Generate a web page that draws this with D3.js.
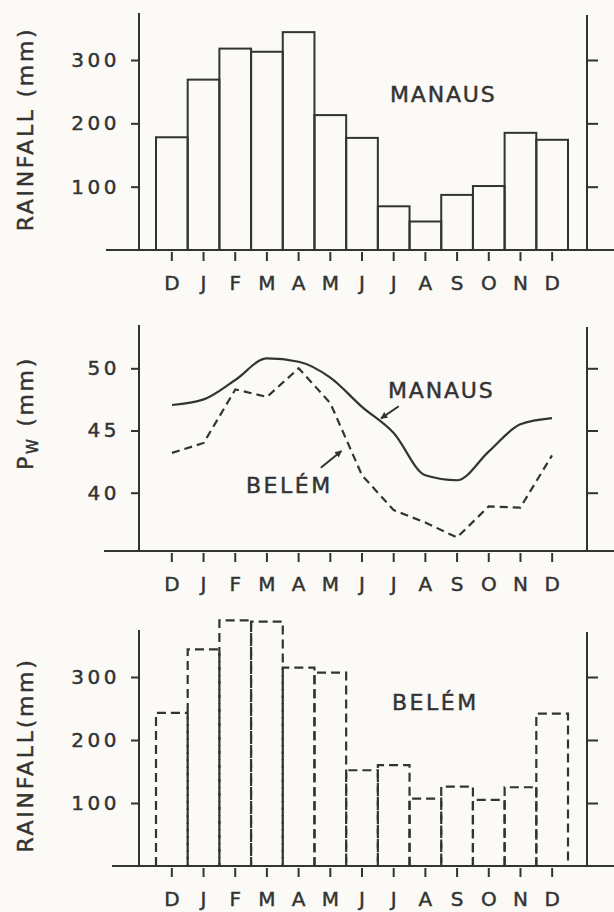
<!doctype html>
<html lang="en">
<head>
  <meta charset="utf-8">
  <title>Rainfall and Pw, Manaus and Belem</title>
  <script src="https://cdnjs.cloudflare.com/ajax/libs/d3/7.8.5/d3.min.js"></script>
  <style>
    body { margin: 0; overflow: hidden; background: #fbfaf6; }
    text { font-family: "DejaVu Sans", sans-serif; fill: #333; stroke: #333; stroke-width: 0.45px; }
  </style>
</head>
<body>
<script>
  // data
  var months = ["D", "J", "F", "M", "A", "M", "J", "J", "A", "S", "O", "N", "D"];
  var manausRain = [178, 269, 318, 313, 344, 213, 177, 69, 45, 87, 101, 185, 174];
  var belemRain = [243, 344, 390, 388, 315, 307, 152, 160, 107, 126, 105, 125, 242];
  var manausPw = [47.05, 47.5, 49.06, 50.8, 50.53, 49.25, 46.9, 44.8, 41.4, 41.0, 43.3, 45.5, 46.0];
  var belemPw = [43.2, 44.0, 48.3, 47.7, 50.0, 47.2, 41.4, 38.6, 37.6, 36.4, 38.9, 38.8, 43.0];
  var rainTicks = [100, 200, 300];
  var pwTicks = [40, 45, 50];

  var ink = "#333";
  var W = 614, H = 912;

  var svg = d3.select("body").append("svg")
    .attr("width", W)
    .attr("height", H);

  svg.append("defs").append("marker")
    .attr("id", "arrow")
    .attr("viewBox", "0 0 10 10")
    .attr("refX", 9).attr("refY", 5)
    .attr("markerWidth", 7).attr("markerHeight", 7)
    .attr("markerUnits", "userSpaceOnUse")
    .attr("orient", "auto")
    .append("path")
    .attr("d", "M0,0 L10,5 L0,10 z")
    .attr("fill", ink);

  var xLeft = 139, xRight = 587;
  var band = d3.scaleBand().domain(d3.range(months.length)).range([156, 568]).padding(0);
  var xIdx = d3.scaleLinear().domain([0, 12]).range([172, 552]);

  function frame(top, base, y, ticks, baseStart) {
    var g = svg.append("g");
    // left axis ticks + labels
    var la = g.append("g")
      .attr("transform", "translate(" + xLeft + ",0)")
      .call(d3.axisLeft(y).tickValues(ticks).tickSize(8).tickPadding(11));
    la.select(".domain").remove();
    la.selectAll("line").attr("stroke", ink).attr("stroke-width", 2);
    la.selectAll("text")
      .attr("font-size", 20).attr("letter-spacing", 3.5)
      .attr("fill", ink).attr("font-family", "DejaVu Sans");
    // right axis ticks
    var ra = g.append("g")
      .attr("transform", "translate(" + xRight + ",0)")
      .call(d3.axisRight(y).tickValues(ticks).tickSize(11).tickFormat(""));
    ra.select(".domain").remove();
    ra.selectAll("line").attr("stroke", ink).attr("stroke-width", 2);
    // bottom ticks + month labels
    var ba = g.append("g")
      .attr("transform", "translate(0," + (base + 2) + ")")
      .call(d3.axisBottom(band).tickSize(9).tickPadding(15).tickFormat(function (i) { return months[i]; }));
    ba.select(".domain").remove();
    ba.selectAll("line").attr("stroke", ink).attr("stroke-width", 2);
    ba.selectAll("text")
      .attr("font-size", 20)
      .attr("fill", ink).attr("font-family", "DejaVu Sans");
    // frame lines
    g.append("line").attr("x1", xLeft).attr("x2", xLeft).attr("y1", top).attr("y2", base)
      .attr("stroke", ink).attr("stroke-width", 2);
    g.append("line").attr("x1", xRight).attr("x2", xRight).attr("y1", top + 2).attr("y2", base)
      .attr("stroke", ink).attr("stroke-width", 2);
    g.append("line").attr("x1", baseStart).attr("x2", W).attr("y1", base).attr("y2", base)
      .attr("stroke", ink).attr("stroke-width", 2);
    return g;
  }

  function yLabel(txt, cy) {
    return svg.append("text")
      .attr("transform", "translate(33," + cy + ") rotate(-90)")
      .attr("text-anchor", "middle")
      .attr("font-size", 22)
      .attr("letter-spacing", 2.7)
      .text(txt);
  }

  // ---- panel 1: Manaus rainfall
  var y1 = d3.scaleLinear().domain([0, 300]).range([250, 60]);
  frame(13, 250, y1, rainTicks, 106);
  svg.append("g").selectAll("rect")
    .data(manausRain)
    .join("rect")
    .attr("x", function (d, i) { return band(i); })
    .attr("y", function (d) { return y1(d); })
    .attr("width", band.bandwidth())
    .attr("height", function (d) { return y1(0) - y1(d); })
    .attr("fill", "none")
    .attr("stroke", ink)
    .attr("stroke-width", 2);
  yLabel("RAINFALL (mm)", 129);
  svg.append("text").attr("x", 390).attr("y", 102)
    .attr("font-size", 22).attr("letter-spacing", 1.8).text("MANAUS");

  // ---- panel 2: precipitable water
  var y2 = d3.scaleLinear().domain([40, 50]).range([492.7, 368.3]);
  frame(325, 551, y2, pwTicks, 104);
  var line2 = d3.line()
    .x(function (d, i) { return xIdx(i); })
    .y(function (d) { return y2(d); });
  svg.append("path").datum(manausPw)
    .attr("d", line2.curve(d3.curveMonotoneX))
    .attr("fill", "none").attr("stroke", ink).attr("stroke-width", 2.2);
  svg.append("path").datum(belemPw)
    .attr("d", line2.curve(d3.curveLinear))
    .attr("fill", "none").attr("stroke", ink).attr("stroke-width", 2.2)
    .attr("stroke-dasharray", "8,5");

  var pwLab = svg.append("text")
    .attr("transform", "translate(33,413) rotate(-90)")
    .attr("text-anchor", "middle")
    .attr("font-size", 22)
    .attr("letter-spacing", 2.7);
  pwLab.append("tspan").text("P");
  pwLab.append("tspan").attr("font-size", 15).attr("dy", 5).text("W");
  pwLab.append("tspan").attr("dy", -5).text(" (mm)");

  svg.append("text").attr("x", 388).attr("y", 398)
    .attr("font-size", 22).attr("letter-spacing", 1.8).text("MANAUS");
  svg.append("text").attr("x", 246).attr("y", 493)
    .attr("font-size", 22).attr("letter-spacing", 2.5).text("BELÉM");

  // arrows, in data coordinates (month index, Pw)
  var arrows = [
    { from: [7.16, 46.95], to: [6.6, 45.97] },
    { from: [4.7, 42.0], to: [5.35, 43.36] }
  ];
  svg.append("g").selectAll("line")
    .data(arrows)
    .join("line")
    .attr("x1", function (d) { return xIdx(d.from[0]); })
    .attr("y1", function (d) { return y2(d.from[1]); })
    .attr("x2", function (d) { return xIdx(d.to[0]); })
    .attr("y2", function (d) { return y2(d.to[1]); })
    .attr("stroke", ink).attr("stroke-width", 2)
    .attr("marker-end", "url(#arrow)");

  // ---- panel 3: Belem rainfall (dashed bars)
  var y3 = d3.scaleLinear().domain([0, 300]).range([866, 677]);
  frame(630, 866, y3, rainTicks, 112);
  svg.append("g").selectAll("path")
    .data(belemRain)
    .join("path")
    .attr("d", function (d, i) {
      var x0 = band(i), x1 = band(i) + band.bandwidth();
      return "M" + x0 + "," + y3(0) + "V" + y3(d) + "H" + x1 + "V" + y3(0);
    })
    .attr("fill", "none")
    .attr("stroke", ink)
    .attr("stroke-width", 2.2)
    .attr("stroke-dasharray", "9,5");
  yLabel("RAINFALL(mm)", 755);
  svg.append("text").attr("x", 392).attr("y", 710)
    .attr("font-size", 22).attr("letter-spacing", 2.5).text("BELÉM");
</script>
</body>
</html>
